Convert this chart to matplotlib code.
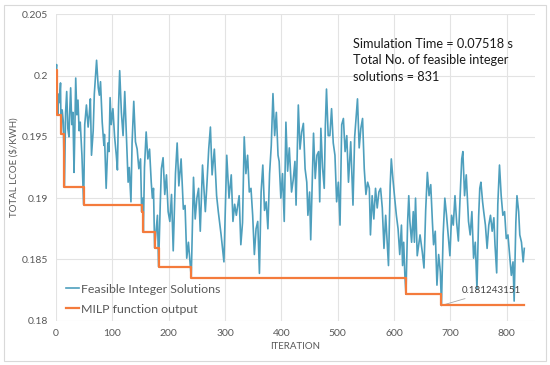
import matplotlib
matplotlib.use("Agg")
import matplotlib.pyplot as plt
from matplotlib.patches import Rectangle

# ---- data ----
blue_iter = [0, 1, 3, 5, 6, 8, 9, 11, 13, 15, 17, 19, 21, 23, 24, 26, 28, 30, 32, 33, 35, 37, 39, 41, 43, 46,
             49, 51, 54, 57, 59, 61, 63, 66, 68, 72, 75, 77, 79, 82, 85, 86, 89, 92, 94, 96, 98, 101, 104, 107,
             109, 111, 113, 116, 119, 122, 125, 128, 130, 133, 135, 138, 141, 144, 147, 150, 152, 154, 155, 157,
             160, 163, 166, 169, 171, 173, 175, 178, 180, 182, 185, 187, 190, 193, 196, 199, 202, 205, 208, 212,
             215, 218, 222, 226, 229, 232, 235, 240, 244, 247, 250, 253, 256, 260, 265, 268, 271, 274, 277, 281,
             285, 288, 293, 298, 303, 307, 311, 314, 317, 320, 325, 328, 331, 334, 337, 340, 343, 346, 349, 352,
             355, 358, 361, 364, 367, 370, 373, 376, 379, 382, 385, 388, 391, 394, 396, 399, 402, 405, 408, 411,
             414, 418, 421, 424, 426, 430, 433, 436, 439, 442, 445, 447, 450, 452, 457, 460, 463, 466, 468, 470,
             473, 476, 478, 480, 483, 486, 489, 492, 495, 498, 501, 504, 507, 510, 513, 516, 519, 523, 527, 530,
             533, 535, 538, 541, 544, 547, 550, 553, 556, 558, 561, 564, 567, 570, 573, 576, 579, 582, 585, 590,
             593, 595, 598, 601, 604, 607, 610, 613, 615, 617, 619, 621, 624, 626, 628, 631, 634, 636, 638, 641,
             646, 650, 653, 656, 659, 662, 665, 668, 670, 673, 676, 679, 682, 684, 687, 690, 693, 696, 699, 702,
             705, 708, 711, 714, 717, 720, 722, 725, 728, 732, 735, 738, 741, 744, 747, 750, 752, 754, 757, 759,
             762, 765, 768, 771, 774, 777, 779, 782, 784, 787, 790, 793, 796, 799, 802, 805, 808, 811, 813, 816,
             818, 821, 823, 826, 829, 831]
blue_lcoe = [0.20046, 0.2009, 0.19679, 0.1985, 0.1978, 0.1994, 0.19524, 0.1972, 0.1962, 0.1909, 0.1970, 0.1987,
             0.1957, 0.1950, 0.1966, 0.1990, 0.1960, 0.1970, 0.1921, 0.1945, 0.1998, 0.1968, 0.1980, 0.1955,
             0.1962, 0.1935, 0.18947, 0.1960, 0.1976, 0.1958, 0.1968, 0.1981, 0.1935, 0.1955, 0.1985, 0.20125,
             0.1990, 0.1984, 0.1995, 0.1962, 0.1943, 0.1952, 0.1908, 0.1945, 0.1938, 0.1982, 0.1960, 0.1973,
             0.1950, 0.1935, 0.1923, 0.1975, 0.2004, 0.1970, 0.1951, 0.1987, 0.1951, 0.1913, 0.1925, 0.1897,
             0.1945, 0.1979, 0.1946, 0.1940, 0.1924, 0.1932, 0.1889, 0.1900, 0.18724, 0.1925, 0.1954, 0.1932,
             0.1940, 0.1913, 0.1900, 0.1908, 0.18594, 0.1875, 0.1886, 0.18441, 0.1895, 0.1924, 0.1933, 0.1903,
             0.1919, 0.1889, 0.1881, 0.1903, 0.1857, 0.1920, 0.1945, 0.1910, 0.1932, 0.1891, 0.1894, 0.1851,
             0.1864, 0.18352, 0.1917, 0.1883, 0.1900, 0.1908, 0.1873, 0.1927, 0.1889, 0.1913, 0.1940, 0.1958,
             0.1919, 0.1940, 0.1902, 0.1889, 0.1870, 0.1848, 0.1935, 0.1900, 0.1919, 0.1881, 0.1895, 0.1886,
             0.1902, 0.1862, 0.1880, 0.1950, 0.1920, 0.1935, 0.1905, 0.1908, 0.1886, 0.1854, 0.1875, 0.1881,
             0.18386, 0.1905, 0.1927, 0.1890, 0.1897, 0.1875, 0.1920, 0.1943, 0.19853, 0.1951, 0.1970, 0.1935,
             0.1930, 0.1900, 0.1920, 0.1881, 0.1962, 0.1922, 0.1941, 0.1905, 0.1915, 0.1930, 0.18943, 0.1976,
             0.1940, 0.1954, 0.1961, 0.1924, 0.1913, 0.1886, 0.1905, 0.1866, 0.1953, 0.1916, 0.1935, 0.1938,
             0.1897, 0.1957, 0.1925, 0.1908, 0.1960, 0.1989, 0.1951, 0.1951, 0.1973, 0.1945, 0.1935, 0.1897,
             0.1913, 0.1878, 0.1960, 0.1965, 0.1938, 0.1951, 0.1913, 0.1946, 0.18943, 0.1950, 0.1968, 0.1981,
             0.1941, 0.1957, 0.1965, 0.1924, 0.1903, 0.1913, 0.1908, 0.1870, 0.1902, 0.1883, 0.1908, 0.1892,
             0.1905, 0.1908, 0.1892, 0.1859, 0.1886, 0.1845, 0.1910, 0.1932, 0.1915, 0.1900, 0.1886, 0.1875,
             0.1854, 0.1878, 0.1845, 0.1864, 0.1838, 0.18216, 0.1881, 0.1902, 0.1881, 0.1864, 0.1889, 0.1864,
             0.1900, 0.1853, 0.1870, 0.1856, 0.1843, 0.1890, 0.1921, 0.1902, 0.1911, 0.1880, 0.1862, 0.1873,
             0.1829, 0.1854, 0.1840, 0.181243151, 0.1870, 0.1900, 0.1886, 0.1870, 0.1853, 0.1886, 0.1878,
             0.1902, 0.1880, 0.1865, 0.1900, 0.1932, 0.1938, 0.1902, 0.1919, 0.1881, 0.1870, 0.1889, 0.1851,
             0.1864, 0.1826, 0.1885, 0.1908, 0.1913, 0.1897, 0.1889, 0.1878, 0.1859, 0.1878, 0.1886, 0.1873,
             0.1884, 0.1862, 0.1839, 0.1895, 0.1927, 0.1902, 0.1886, 0.1889, 0.1867, 0.1870, 0.1854, 0.1837,
             0.1848, 0.1816, 0.1880, 0.1902, 0.1889, 0.1870, 0.1864, 0.1848, 0.1859]

milp_iter = [0, 2, 9, 15, 49, 152, 155, 175, 182, 240, 621, 684, 831]
milp_lcoe = [0.20046, 0.19679, 0.19524, 0.19090, 0.18947, 0.18890, 0.18724, 0.18594, 0.18441, 0.18352,
             0.18216, 0.181243151, 0.181243151]

x_ticks = [0, 100, 200, 300, 400, 500, 600, 700, 800]
y_ticks = [0.18, 0.185, 0.19, 0.195, 0.2, 0.205]
y_tick_labels = ["0.18", "0.185", "0.19", "0.195", "0.2", "0.205"]

best_label = "0.181243151"
info_lines = ["Simulation Time = 0.07518 s", "Total No. of feasible integer", "solutions = 831"]

# ---- figure ----
plt.rcParams['font.family'] = ['Lato', 'DejaVu Sans']
W, H = 550, 365
fig = plt.figure(figsize=(W / 100, H / 100), dpi=100)
fig.patches.append(Rectangle((4 / W, 4 / H), 542 / W, 356 / H, transform=fig.transFigure,
                             fill=False, edgecolor='#d9d9d9', linewidth=0.8))

ax = fig.add_axes([56 / W, 1 - 320.7 / H, (535 - 56) / W, (320.7 - 14.3) / H])
ax.set_xlim(0, 850)
ax.set_ylim(0.18, 0.205)
ax.set_xticks(x_ticks)
ax.set_yticks(y_ticks)
ax.set_yticklabels(y_tick_labels)
for s in ax.spines.values():
    s.set_visible(False)
ax.grid(True, color='#e3e3e3', linewidth=0.8)
ax.set_axisbelow(True)
ax.tick_params(length=0, labelsize=7.5, labelcolor='#595959', pad=6)

ax.plot(blue_iter, blue_lcoe, color='#4e9fbd', linewidth=1.2, label='Feasible Integer Solutions', zorder=3)
ax.step(milp_iter, milp_lcoe, where='post', color='#f47b3c', linewidth=1.6,
        label='MILP function output', zorder=4)

ax.annotate(best_label, xy=(milp_iter[-2], milp_lcoe[-2]), xytext=(720, 0.18243),
            ha='left', va='center', fontsize=7, color='#404040',
            arrowprops=dict(arrowstyle='-', color='#a6a6a6', linewidth=0.6, shrinkA=1, shrinkB=0))

ax.set_xlabel('ITERATION', fontsize=7, color='#595959', labelpad=3)
ax.set_ylabel('TOTAL LCOE ($/KWH)', fontsize=7, color='#595959', labelpad=2)

leg = ax.legend(loc='lower left', bbox_to_anchor=(0.02, 0.02), frameon=False, fontsize=8.9,
                handlelength=1.05, handletextpad=0.2, labelspacing=0.72, borderpad=0, borderaxespad=0)
for t in leg.get_texts():
    t.set_color('#595959')

for i, line in enumerate(info_lines):
    fig.text(353 / W, 1 - (44 + i * 16.5) / H, line, fontsize=9.2, color='#1a1a1a',
             ha='left', va='center')

fig.savefig('out.png', dpi=100)
